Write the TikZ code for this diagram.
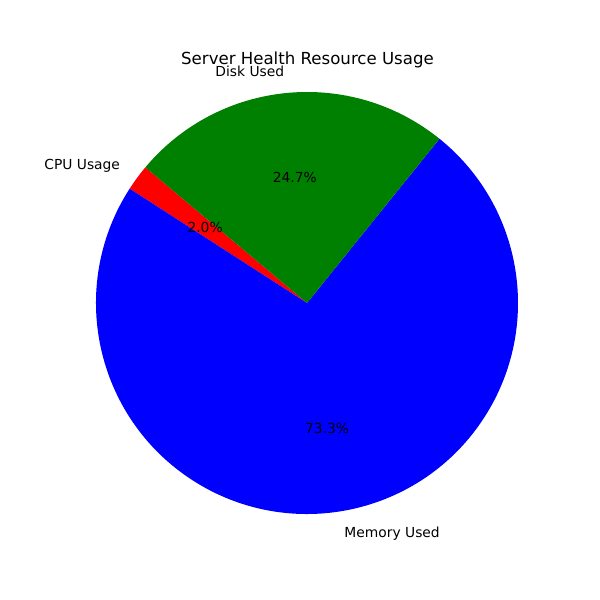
\documentclass[tikz,border=0pt]{standalone}
\usepackage{fontspec}
\setmainfont{DejaVu Sans}
\begin{document}
\begin{tikzpicture}
  [x=0.0254cm,y=0.0254cm,
   every node/.style={font=\fontsize{10}{12}\selectfont,inner sep=0pt}]
  \useasboundingbox (-307,-297) rectangle (293,303);
  % wedges, counterclockwise from 140 degrees
  \fill[red] (0,0) -- (140:211) arc (140:147.2:211) -- cycle;
  \fill[blue] (0,0) -- (147.2:211) arc (147.2:411.1:211) -- cycle;
  \fill[green!50!black] (0,0) -- (51.1:211) arc (51.1:140:211) -- cycle;

  \node[font=\fontsize{12}{14}\selectfont] (title) at (0.5,243) {Server Health Resource Usage};

  \node[anchor=east] (cpu) at (143.6:232) {CPU Usage};
  \node[anchor=west] (memory) at (279.15:234) {Memory Used};
  \node[anchor=east] (disk) at (95.55:233) {Disk Used};

  \node (cpupct) at (143.6:126.6) {2.0\%};
  \node (memorypct) at (279.15:126.6) {73.3\%};
  \node (diskpct) at (95.55:126.6) {24.7\%};
\end{tikzpicture}
\end{document}
